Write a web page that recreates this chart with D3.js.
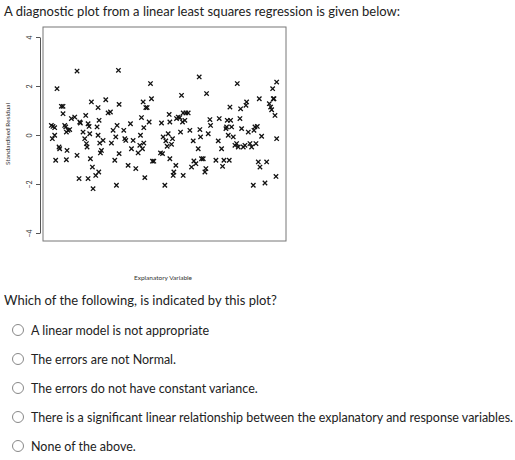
<!DOCTYPE html><html><head><meta charset="utf-8"><script src="https://cdn.jsdelivr.net/npm/d3@7"></script>
<style>body{margin:0;background:#fff}text{font-family:Lato,sans-serif}</style></head><body><svg id="c" width="515" height="460"></svg><script>
const explanatory=[155,160,165,158,165,168,172,178,180,185,190,190,195,198,200,200,202,205,210,215,225,232,232,238,240,242,250,255,258,260,262,265,265,268,270,272,275,278,280,288,292,295,295,297,298,300,302,305,310,318,325,332,335,340,345,348,350,352,356,358,358,372,375,378,385,392,395,400,408,415,420,422,425,428,430,432,432,435,438,442,448,452,455,458,462,482,485,488,490,495,498,502,505,508,510,510,515,518,520,522,528,530,535,540,542,545,548,550,550,555,558,565,570,575,580,582,588,595,598,600,602,605,610,615,618,620,625,630,632,648,655,658,665,668,672,678,680,682,685,688,690,692,695,700,705,710,712,715,720,722,725,730,735,738,740,745,750,755,760,762,765,768,772,775,778,780,785,795,800,808,812,815,818,820,822,825,828,830,830];
const residual=[0.39,0.35,0.30,-0.15,-0.01,-1.03,1.89,-0.49,-0.56,1.17,1.17,0.87,0.39,0.33,0.12,-1.01,-0.63,0.19,0.22,0.67,0.73,2.61,-0.83,-1.78,0.53,0.49,0.12,-0.15,0.80,-0.35,-0.49,0.46,-1.78,0.35,0.05,-0.97,1.35,-1.31,-2.19,-1.65,0.33,-0.01,1.12,-1.51,0.60,-0.33,-0.73,-0.63,-0.22,1.44,0.90,0.94,-0.33,0.19,-1.03,-0.08,-2.05,0.39,2.64,1.25,-0.76,0.19,-0.15,-0.22,-1.24,0.46,-0.56,-0.22,-1.37,-0.73,-0.42,-0.01,0.71,-0.56,1.35,0.30,-0.33,-1.74,1.12,1.12,0.53,2.10,1.48,-1.07,-1.07,-0.73,0.49,-0.76,-0.08,-2.05,-0.24,-0.46,0.05,0.84,0.53,-0.97,-0.38,-0.15,-1.65,-1.51,-1.24,0.67,0.73,0.71,0.12,1.62,0.53,0.90,-1.65,0.60,0.90,0.90,0.19,-1.31,-0.24,-1.06,-1.17,-0.56,2.37,0.22,-0.08,-0.97,-0.97,-1.51,-1.37,1.69,0.05,0.63,0.39,-1.03,-0.24,0.67,-0.56,-1.28,-1.03,0.26,0.33,0.60,-0.01,-1.03,1.14,0.60,0.33,-0.08,-0.42,-0.35,2.10,-0.49,0.67,1.07,0.26,-0.49,-0.42,1.21,1.35,0.12,-0.35,-0.49,-2.05,0.19,0.33,-0.35,0.35,-1.10,1.48,-1.31,-0.05,-1.96,-1.10,1.28,1.14,1.03,1.89,1.48,1.48,0.80,-1.69,2.16,-0.15];
const yTicks=[-4,-2,0,2,4];
const options=["A linear model is not appropriate","The errors are not Normal.","The errors do not have constant variance.","There is a significant linear relationship between the explanatory and response variables.","None of the above."];
const svg=d3.select("#c");
svg.append("text").attr("x",4).attr("y",16).attr("font-size",13).attr("fill","#222").text("A diagnostic plot from a linear least squares regression is given below:");
const x=d3.scaleLinear().domain([130,858]).range([43,286]);
const y=d3.scaleLinear().domain([-4,4]).range([233,37]);
svg.append("rect").attr("x",43).attr("y",27).attr("width",243).attr("height",214).attr("fill","none").attr("stroke","#777").attr("stroke-width",1);
const ya=svg.append("g").attr("transform","translate(40,0)").call(d3.axisLeft(y).tickValues(yTicks).tickSize(4).tickSizeOuter(0));
ya.select(".domain").attr("stroke","#555");ya.selectAll("line").attr("stroke","#555");
ya.selectAll("text").attr("font-family","Liberation Sans").attr("font-size",7).attr("fill","#333").attr("text-anchor","middle").attr("x",-10).attr("y",0).attr("dy","0.35em").attr("transform","rotate(-90,-10,0)");
svg.append("text").attr("transform","translate(10,134) rotate(-90)").attr("text-anchor","middle").attr("font-family","Liberation Sans").attr("font-size",6.5).attr("fill","#333").text("Standardised Residual");
svg.append("text").attr("x",163).attr("y",280).attr("text-anchor","middle").attr("font-family","Liberation Sans").attr("font-size",6.5).attr("fill","#333").text("Explanatory Variable");
const s=2.2;
svg.append("g").selectAll("path").data(explanatory.map((v,i)=>[v,residual[i]])).join("path")
 .attr("d",d=>{const cx=x(d[0]),cy=y(d[1]);return `M${cx-s},${cy-s}L${cx+s},${cy+s}M${cx-s},${cy+s}L${cx+s},${cy-s}`;})
 .attr("stroke","#111").attr("stroke-width",1.3);
svg.append("text").attr("x",4).attr("y",305).attr("font-size",13).attr("fill","#222").text("Which of the following,  is indicated by this plot?");
const oy=d3.scaleLinear().domain([0,4]).range([330,446]);
options.forEach((t,i)=>{
 svg.append("circle").attr("cx",18).attr("cy",oy(i)).attr("r",5.5).attr("fill","#fff").attr("stroke","#888");
 svg.append("text").attr("x",31).attr("y",oy(i)+4.5).attr("font-size",12.5).attr("fill","#222").text(t);
});
</script></body></html>
